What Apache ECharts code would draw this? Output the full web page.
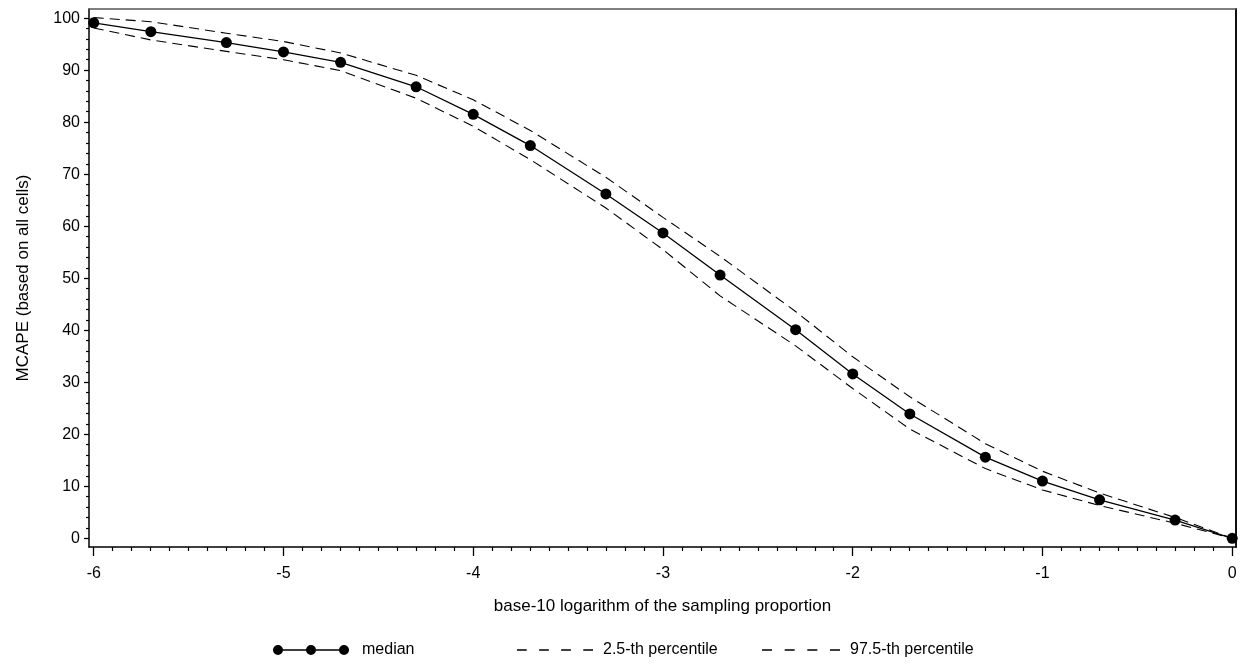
<!DOCTYPE html>
<html><head><meta charset="utf-8">
<script src="https://cdn.jsdelivr.net/npm/echarts@6/dist/echarts.min.js"></script>
<style>html,body{margin:0;padding:0;background:#fff}#c{width:1246px;height:666px}</style>
</head><body><div id="c"></div>
<script>
// x: base-10 logarithm of the sampling proportion
const logProportion = [-6, -5.699, -5.301, -5, -4.699, -4.301, -4, -3.699, -3.301, -3, -2.699, -2.301, -2, -1.699, -1.301, -1, -0.699, -0.301, 0];
const medianValues = [99.1, 97.4, 95.3, 93.5, 91.5, 86.8, 81.5, 75.5, 66.2, 58.7, 50.6, 40.1, 31.6, 23.9, 15.6, 11.0, 7.4, 3.5, 0.0];
const p025Values = [98.1, 95.8, 93.6, 92.0, 89.9, 84.6, 79.2, 72.8, 63.5, 55.5, 46.6, 37.0, 28.8, 21.0, 13.4, 9.3, 6.3, 2.9, 0.0];
const p975Values = [100.1, 99.3, 97.1, 95.5, 93.3, 89.0, 84.3, 78.4, 69.4, 61.7, 54.2, 43.6, 34.9, 27.2, 18.2, 12.9, 8.7, 4.0, 0.0];
const xTickLabels = [-6, -5, -4, -3, -2, -1, 0];
const yTickLabels = [0, 10, 20, 30, 40, 50, 60, 70, 80, 90, 100];
const seriesNames = ['median', '2.5-th percentile', '97.5-th percentile'];

const xMinor = [];
for (let i = -60; i <= 0; i++) { if (i % 10 !== 0) xMinor.push(i / 10); }
const yMinor = [];
for (let v = 0; v <= 100; v += 2) { if (v % 10 !== 0) yMinor.push(v); }

const X_MIN = -6.025, X_MAX = 0.02, Y_MIN = -1.67, Y_MAX = 101.75;
const FONT = '"Liberation Sans", Arial, sans-serif';
const txt = { fontFamily: FONT, fontSize: 16, color: '#000' };
const titleTxt = { fontFamily: FONT, fontSize: 17, color: '#000' };

const medianIcon = 'path://M0,4.25H76V5.75H0Z M0,5a5,5 0 1,1 10,0a5,5 0 1,1 -10,0Z M33,5a5,5 0 1,1 10,0a5,5 0 1,1 -10,0Z M66,5a5,5 0 1,1 10,0a5,5 0 1,1 -10,0Z';
const dashIcon = 'path://M0,0H10V1.3H0Z M22.7,0H32.7V1.3H22.7Z M45.3,0H55.3V1.3H45.3Z M68,0H78V1.3H68Z';

const pairs = arr => logProportion.map((x, i) => [x, arr[i]]);

const chart = echarts.init(document.getElementById('c'), null, { renderer: 'canvas' });
const legendBase = {
  orient: 'horizontal', padding: 0, top: 642, selectedMode: false,
  itemStyle: { color: '#000', borderWidth: 0 }
};
chart.setOption({
  animation: false,
  backgroundColor: '#fff',
  grid: { left: 89, right: 10, top: 9, bottom: 119, containLabel: false, outerBoundsMode: 'none' },
  xAxis: [
    {
      type: 'value', min: X_MIN, max: X_MAX, position: 'bottom',
      axisLine: { show: true, onZero: false, lineStyle: { color: '#000', width: 1.5 } },
      axisTick: { show: true, customValues: xTickLabels, length: 9, lineStyle: { color: '#000', width: 1.3 } },
      axisLabel: { show: true, customValues: xTickLabels, margin: 19, ...txt },
      splitLine: { show: false },
      name: 'base-10 logarithm of the sampling proportion', nameLocation: 'middle', nameGap: 51,
      nameTextStyle: titleTxt
    },
    {
      type: 'value', min: X_MIN, max: X_MAX, position: 'bottom',
      axisLine: { show: false, onZero: false },
      axisTick: { show: true, customValues: xMinor, length: 4, lineStyle: { color: '#000', width: 1.2 } },
      axisLabel: { show: false }, splitLine: { show: false }
    },
    {
      type: 'value', min: X_MIN, max: X_MAX, position: 'top',
      axisLine: { show: true, onZero: false, lineStyle: { color: '#555', width: 1.5 } },
      axisTick: { show: false }, axisLabel: { show: false }, splitLine: { show: false }
    }
  ],
  yAxis: [
    {
      type: 'value', min: Y_MIN, max: Y_MAX, position: 'left',
      axisLine: { show: true, onZero: false, lineStyle: { color: '#000', width: 1.5 } },
      axisTick: { show: true, customValues: yTickLabels, length: 5, lineStyle: { color: '#000', width: 1.3 } },
      axisLabel: { show: true, customValues: yTickLabels, margin: 9, ...txt },
      splitLine: { show: false },
      name: 'MCAPE (based on all cells)', nameLocation: 'middle', nameGap: 57, nameRotate: 90,
      nameTextStyle: titleTxt
    },
    {
      type: 'value', min: Y_MIN, max: Y_MAX, position: 'left',
      axisLine: { show: false, onZero: false },
      axisTick: { show: true, customValues: yMinor, length: 3, lineStyle: { color: '#000', width: 1.2 } },
      axisLabel: { show: false }, splitLine: { show: false }
    },
    {
      type: 'value', min: Y_MIN, max: Y_MAX, position: 'right',
      axisLine: { show: true, onZero: false, lineStyle: { color: '#111', width: 2 } },
      axisTick: { show: false }, axisLabel: { show: false }, splitLine: { show: false }
    }
  ],
  legend: [
    Object.assign({}, legendBase, {
      left: 273, itemWidth: 76, itemHeight: 10,
      data: [{ name: seriesNames[0], icon: medianIcon }],
      textStyle: Object.assign({}, txt, { padding: [0, 0, 0, 8] })
    }),
    Object.assign({}, legendBase, {
      left: 517, itemWidth: 76, itemHeight: 1.3,
      data: [{ name: seriesNames[1], icon: dashIcon }],
      textStyle: Object.assign({}, txt, { padding: [0, 0, 0, 5] })
    }),
    Object.assign({}, legendBase, {
      left: 762, itemWidth: 78, itemHeight: 1.3,
      data: [{ name: seriesNames[2], icon: dashIcon }],
      textStyle: Object.assign({}, txt, { padding: [0, 0, 0, 5] })
    })
  ],
  series: [
    {
      name: seriesNames[0], type: 'line', xAxisIndex: 0, yAxisIndex: 0, z: 4,
      data: pairs(medianValues), symbol: 'circle', symbolSize: 11,
      lineStyle: { color: '#000', width: 1.3 }, itemStyle: { color: '#000' }
    },
    {
      name: seriesNames[1], type: 'line', xAxisIndex: 0, yAxisIndex: 0, z: 3,
      data: pairs(p025Values), symbol: 'none',
      lineStyle: { color: '#000', width: 1.1, type: [10, 6] }, itemStyle: { color: '#000' }
    },
    {
      name: seriesNames[2], type: 'line', xAxisIndex: 0, yAxisIndex: 0, z: 3,
      data: pairs(p975Values), symbol: 'none',
      lineStyle: { color: '#000', width: 1.1, type: [10, 6] }, itemStyle: { color: '#000' }
    }
  ]
});
</script>
</body></html>
